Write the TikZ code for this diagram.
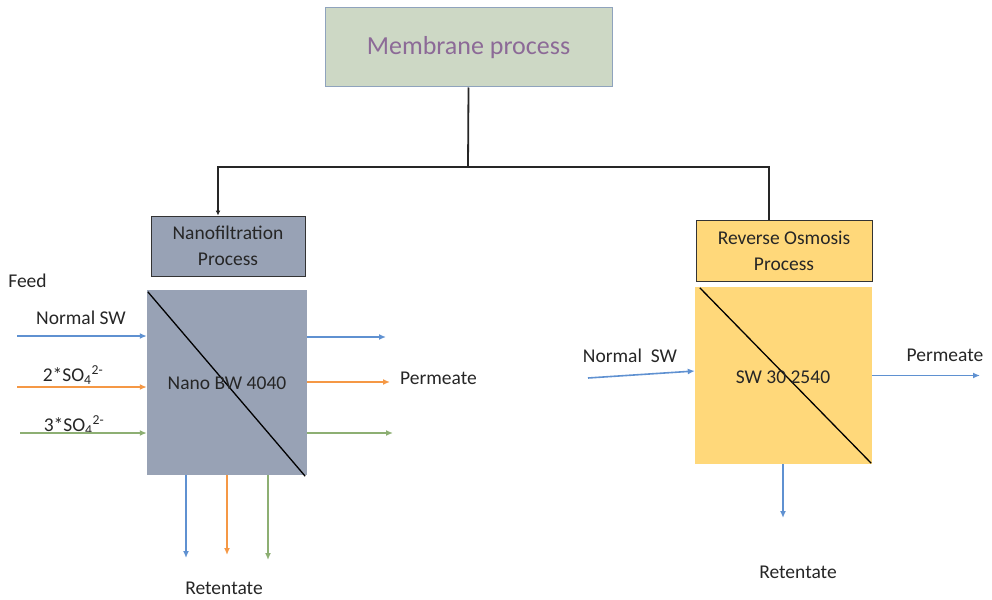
\documentclass[tikz,border=0pt]{standalone}
\usepackage{fontspec}
\setmainfont{Carlito}
\usetikzlibrary{arrows.meta}
\definecolor{txt}{HTML}{262626}
\definecolor{memfill}{HTML}{CDD8C5}
\definecolor{memdraw}{HTML}{8FA3BD}
\definecolor{memtxt}{HTML}{8C6A97}
\definecolor{nffill}{HTML}{98A2B5}
\definecolor{rofill}{HTML}{FFD87A}
\definecolor{cblue}{HTML}{5F91D1}
\definecolor{corange}{HTML}{F59845}
\definecolor{cgreen}{HTML}{8DAF73}
\tikzset{
  x=1pt,y=-1pt,
  lbl/.style={text=txt,font=\fontsize{19.5}{23}\selectfont,inner sep=0pt},
  procbox/.style={draw=black!80,line width=1pt,text=txt,align=center,font=\fontsize{19.5}{26}\selectfont,inner sep=0pt},
  modbox/.style={inner sep=0pt,text=txt,font=\fontsize{19.5}{23}\selectfont},
  flow/.style={line width=1.6pt,-{Latex[length=7pt,width=6pt]}},
  tree/.style={draw=black!85,line width=1.8pt},
}
\begin{document}
\begin{tikzpicture}
\useasboundingbox (0,0) rectangle (992,599);
% main boxes
\node[draw=memdraw,fill=memfill,line width=1pt,minimum width=287pt,minimum height=79pt,inner sep=0pt,text=memtxt,font=\fontsize{26}{30}\selectfont] (mem) at (468.5,47.5) {Membrane process};
\node[procbox,fill=nffill,minimum width=154pt,minimum height=60pt] (nf) at (228,246) {Nanofiltration\\Process};
\node[procbox,fill=rofill,minimum width=176pt,minimum height=61pt] (ro) at (784,250.5) {Reverse Osmosis\\Process};
% modules
\node[fill=nffill,minimum width=160pt,minimum height=185pt,inner sep=0pt] (nfm) at (227,382.5) {};
\node[fill=rofill,minimum width=177pt,minimum height=177pt,inner sep=0pt] (rom) at (783.5,375.5) {};
\draw[line width=1.3pt,black] ([shift={(1,2)}]nfm.north west) -- ([shift={(-2,1)}]nfm.south east);
\draw[line width=1.3pt,black] ([shift={(5,1)}]rom.north west) -- ([shift={(-1,-1)}]rom.south east);
\node[modbox] (nft) at (227,383) {Nano BW 4040};
\node[modbox] (rot) at (783,377) {SW 30 2540};
% tree
\coordinate (j) at (468,167);
\draw[tree,-{Latex[length=5pt,width=5pt]}] (mem.south) -- (j) -| ([xshift=-10pt]nf.north);
\draw[tree] (j) -| ([xshift=-15pt]ro.north);
% NF labels
\node[lbl] (feed) at (27.5,281) {Feed};
\node[lbl] (l1) at (81,318) {Normal SW};
\node[lbl] (l2) at (73,375) {2*SO\textsubscript{4}\textsuperscript{2-}};
\node[lbl] (l3) at (74,425) {3*SO\textsubscript{4}\textsuperscript{2-}};
\node[lbl] (perm1) at (438.5,378) {Permeate};
\node[lbl] (ret1) at (224,588) {Retentate};
% NF flows
\coordinate (a1) at (17,336);
\coordinate (a2) at (17,387);
\coordinate (a3) at (20,433);
\draw[flow,cblue] (a1) -- (a1 -| nfm.west);
\draw[flow,corange] (a2) -- (a2 -| nfm.west);
\draw[flow,cgreen] (a3) -- (a3 -| nfm.west);
\coordinate (b1) at (386,337);
\coordinate (b2) at (390,382);
\coordinate (b3) at (393,433);
\draw[flow,cblue] (b1 -| nfm.east) -- (b1);
\draw[flow,corange] (b2 -| nfm.east) -- (b2);
\draw[flow,cgreen] (b3 -| nfm.east) -- (b3);
\coordinate (c1) at (186,558);
\coordinate (c2) at (227,555);
\coordinate (c3) at (268,560);
\draw[flow,cblue] (c1 |- nfm.south) -- (c1);
\draw[flow,corange] (c2 |- nfm.south) -- (c2);
\draw[flow,cgreen] (c3 |- nfm.south) -- (c3);
% RO labels and flows
\node[lbl] (l4) at (630,356) {Normal\ \ SW};
\node[lbl] (perm2) at (945,355) {Permeate};
\node[lbl] (ret2) at (798,572) {Retentate};
\coordinate (d1) at (588,378);
\draw[flow,cblue] (d1) -- ([yshift=4.5pt]rom.west);
\coordinate (e1) at (980,375.5);
\draw[flow,cblue] (e1 -| rom.east) -- (e1);
\coordinate (f1) at (783,518);
\draw[flow,cblue] (f1 |- rom.south) -- (f1);
\end{tikzpicture}
\end{document}
